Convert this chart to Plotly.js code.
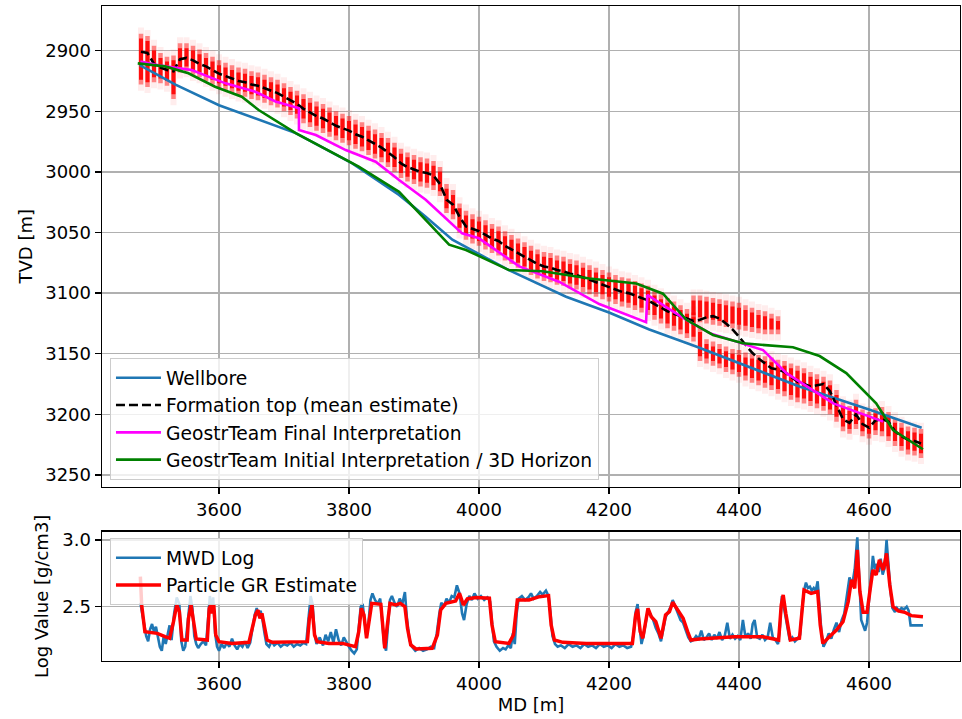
<!DOCTYPE html>
<html>
<head>
<meta charset="utf-8">
<script src="https://cdn.plot.ly/plotly-3.0.1.min.js"></script>
<style>
  html, body { margin: 0; padding: 0; background: #ffffff; }
  #chart { width: 962px; height: 719px; }
</style>
</head>
<body>
<div id="chart"></div>
<script>
// ---- Upper panel: trajectory and formation-top interpretations (MD vs TVD) ----
const wellMd  = [3478, 3533, 3600, 3656, 3718, 3805, 3877, 3918, 3959, 4046, 4134, 4200, 4262, 4334, 4401, 4493, 4600, 4681];
const wellTvd = [2912, 2928, 2945, 2956, 2968, 2993, 3019, 3037, 3056, 3081, 3103, 3116, 3130, 3144, 3158, 3177, 3196, 3211];

const finalMd  = [3479, 3507, 3558, 3610, 3656, 3687, 3723, 3723, 3749, 3795, 3841, 3877, 3918, 3974, 4000, 4062, 4123, 4185, 4257, 4259, 4288, 4319, 4355, 4406, 4437, 4473, 4545, 4622];
const finalTvd = [2909, 2912, 2916, 2927, 2934, 2942, 2947.6, 2965.5, 2969.6, 2982, 2991.6, 3006.7, 3023, 3050.7, 3054.8, 3078, 3090.6, 3109, 3124, 3101.5, 3111.5, 3122, 3133, 3141.4, 3147, 3166, 3191, 3206];

const initMd  = [3475, 3517, 3553, 3594, 3635, 3661, 3718, 3815, 3877, 3954, 3980, 4046, 4098, 4170, 4242, 4283, 4319, 4360, 4406, 4483, 4524, 4565, 4611, 4637, 4683];
const initTvd = [2910.5, 2913, 2918.7, 2929.8, 2938, 2949, 2968, 2995.7, 3016.5, 3060, 3064.4, 3081, 3082, 3088, 3092, 3100.5, 3122, 3134.5, 3141.4, 3144.7, 3151.9, 3166, 3190.9, 3212.9, 3228.8];

// Particle filter: station depths, mean formation top and particle spread (low / high TVD)
const pMd = [3480, 3490, 3500, 3510, 3520, 3530, 3540, 3550, 3560, 3570, 3580, 3590, 3600, 3610, 3620, 3630, 3640, 3650, 3660, 3670,
             3680, 3690, 3700, 3710, 3720, 3730, 3740, 3750, 3760, 3770, 3780, 3790, 3800, 3810, 3820, 3830, 3840, 3850, 3860, 3870,
             3880, 3890, 3900, 3910, 3920, 3930, 3940, 3950, 3960, 3970, 3980, 3990, 4000, 4010, 4020, 4030, 4040, 4050, 4060, 4070,
             4080, 4090, 4100, 4110, 4120, 4130, 4140, 4150, 4160, 4170, 4180, 4190, 4200, 4210, 4220, 4230, 4240, 4250, 4260, 4270,
             4280, 4290, 4300, 4310, 4320, 4330, 4340, 4350, 4360, 4370, 4380, 4390, 4400, 4410, 4420, 4430, 4440, 4450, 4460, 4470,
             4480, 4490, 4500, 4510, 4520, 4530, 4540, 4550, 4560, 4570, 4580, 4590, 4600, 4610, 4620, 4630, 4640, 4650, 4660, 4670, 4680];
const pMean = [2901, 2902, 2911, 2914, 2916, 2917, 2907, 2906, 2908, 2911, 2913, 2916, 2919, 2921, 2923, 2925, 2926, 2928, 2929, 2931,
               2933, 2935, 2938, 2941, 2944, 2948, 2951, 2954, 2956, 2959, 2962, 2964, 2966, 2969, 2971, 2974, 2977, 2980, 2984, 2988,
               2993, 2996, 2998, 3000, 3001, 3003, 3010, 3023, 3027, 3037, 3045, 3047, 3049, 3052, 3055, 3057, 3061, 3064, 3067, 3070,
               3073, 3076, 3078, 3079, 3081, 3082, 3084, 3085, 3087, 3089, 3091, 3093, 3095, 3097, 3099, 3100, 3102, 3104, 3106, 3109,
               3112, 3115, 3117, 3119, 3121, 3123, 3122, 3120, 3119, 3121, 3125, 3130, 3136, 3143, 3149, 3154, 3158, 3162, 3163, 3165,
               3169, 3173, 3175, 3177, 3176, 3175, 3181, 3192, 3204, 3207, 3200, 3208, 3211, 3205, 3204, 3206, 3214, 3218, 3221, 3222, 3224];
const pLo = [2886, 2888, 2896, 2902, 2905, 2904, 2894, 2894, 2896, 2899, 2902, 2905, 2908, 2910, 2912, 2914, 2915, 2917, 2918, 2920,
             2922, 2924, 2927, 2930, 2933, 2936, 2939, 2942, 2944, 2947, 2950, 2952, 2954, 2957, 2959, 2962, 2965, 2968, 2972, 2976,
             2981, 2984, 2986, 2988, 2989, 2991, 2996, 3010, 3015, 3026, 3032, 3035, 3037, 3040, 3043, 3045, 3049, 3052, 3055, 3058,
             3061, 3064, 3066, 3067, 3069, 3070, 3072, 3073, 3075, 3077, 3079, 3081, 3083, 3085, 3087, 3088, 3090, 3092, 3094, 3098,
             3101, 3104, 3107, 3110, 3113, 3116, 3128, 3138, 3140, 3142, 3144, 3146, 3147, 3149, 3150, 3151, 3152, 3153, 3155, 3156,
             3158, 3160, 3162, 3165, 3167, 3169, 3172, 3180, 3190, 3193, 3188, 3196, 3198, 3195, 3194, 3198, 3203, 3207, 3210, 3211, 3212];
const pHi = [2928, 2930, 2926, 2927, 2929, 2940, 2918, 2917, 2920, 2922, 2925, 2928, 2931, 2933, 2935, 2937, 2938, 2940, 2941, 2943,
             2945, 2947, 2950, 2953, 2956, 2960, 2963, 2966, 2968, 2971, 2974, 2976, 2978, 2981, 2983, 2986, 2989, 2992, 2996, 3000,
             3005, 3008, 3010, 3012, 3013, 3015, 3020, 3034, 3039, 3050, 3056, 3059, 3061, 3064, 3067, 3069, 3073, 3076, 3079, 3082,
             3085, 3088, 3090, 3091, 3093, 3094, 3096, 3097, 3099, 3101, 3103, 3105, 3107, 3109, 3111, 3112, 3114, 3116, 3118, 3122,
             3125, 3129, 3131, 3134, 3137, 3140, 3156, 3158, 3160, 3162, 3165, 3167, 3169, 3172, 3174, 3176, 3178, 3180, 3183, 3185,
             3188, 3190, 3191, 3193, 3195, 3197, 3200, 3206, 3214, 3216, 3212, 3218, 3220, 3217, 3218, 3222, 3226, 3230, 3233, 3234, 3236];
// Second (shallower) particle mode between 4330 and 4460 m MD
const p2Md = [4330, 4340, 4350, 4360, 4370, 4380, 4390, 4400, 4410, 4420, 4430, 4440, 4450, 4460];
const p2Lo = [3102, 3102, 3103, 3104, 3105, 3106, 3107, 3108, 3110, 3112, 3114, 3115, 3117, 3119];
const p2Hi = [3122, 3124, 3125, 3126, 3127, 3128, 3129, 3130, 3131, 3132, 3133, 3134, 3134, 3134];

// ---- Lower panel: MWD log and particle estimate ----
const mwdMd = [3479, 3482, 3485, 3488, 3491, 3494, 3497, 3500, 3503, 3506, 3509, 3512, 3515, 3518, 3521, 3524, 3527, 3531, 3535, 3539,
               3542, 3545, 3548, 3552, 3556, 3559, 3562, 3565, 3568, 3572, 3576, 3580, 3583, 3586, 3589, 3591, 3594, 3597, 3600, 3604,
               3608, 3612, 3616, 3620, 3624, 3628, 3632, 3636, 3640, 3644, 3648, 3651, 3655, 3658, 3661, 3664, 3667, 3670, 3673, 3677,
               3681, 3685, 3690, 3695, 3700, 3705, 3710, 3715, 3720, 3725, 3730, 3734, 3738, 3741, 3744, 3747, 3750, 3755, 3760, 3764,
               3768, 3772, 3776, 3780, 3784, 3788, 3792, 3796, 3800, 3804, 3808, 3812, 3815, 3818, 3821, 3824, 3827, 3830, 3833, 3836,
               3840, 3844, 3848, 3851, 3854, 3857, 3860, 3863, 3866, 3870, 3874, 3878, 3882, 3886, 3889, 3893, 3897, 3902, 3908, 3914,
               3920, 3926, 3931, 3935, 3939, 3942, 3946, 3950, 3954, 3958, 3962, 3966, 3970, 3974, 3977, 3981, 3985, 3989, 3993, 3998,
               4003, 4008, 4013, 4017, 4020, 4023, 4027, 4032, 4037, 4041, 4045, 4049, 4052, 4055, 4058, 4061, 4066, 4071, 4076, 4080,
               4084, 4089, 4094, 4098, 4103, 4107, 4110, 4113, 4117, 4121, 4126, 4132, 4138, 4144, 4150, 4156, 4162, 4168, 4174, 4180,
               4186, 4192, 4198, 4204, 4210, 4216, 4222, 4228, 4234, 4238, 4241, 4244, 4247, 4250, 4253, 4257, 4260, 4264, 4268, 4272,
               4276, 4280, 4283, 4287, 4291, 4295, 4298, 4302, 4306, 4310, 4314, 4318, 4322, 4326, 4330, 4334, 4338, 4342, 4346, 4350,
               4354, 4358, 4362, 4366, 4370, 4374, 4378, 4382, 4386, 4390, 4394, 4398, 4402, 4406, 4410, 4414, 4418, 4421, 4424, 4428,
               4432, 4436, 4440, 4444, 4448, 4452, 4456, 4460, 4463, 4466, 4469, 4472, 4475, 4478, 4482, 4486, 4490, 4494, 4497, 4500,
               4503, 4506, 4509, 4512, 4515, 4518, 4521, 4524, 4527, 4530, 4534, 4538, 4542, 4546, 4550, 4554, 4558, 4562, 4566, 4570,
               4574, 4578, 4582, 4585, 4588, 4591, 4594, 4597, 4600, 4603, 4606, 4609, 4612, 4615, 4618, 4621, 4624, 4627, 4630, 4633,
               4636, 4640, 4643, 4646, 4650, 4654, 4658, 4661, 4664, 4670, 4676, 4683];
const mwdVal = [2.53, 2.45, 2.36, 2.28, 2.24, 2.33, 2.37, 2.31, 2.35, 2.26, 2.20, 2.17, 2.28, 2.22, 2.30, 2.36, 2.25, 2.45, 2.57, 2.52,
                2.24, 2.17, 2.20, 2.40, 2.58, 2.49, 2.28, 2.22, 2.19, 2.22, 2.24, 2.21, 2.38, 2.58, 2.46, 2.57, 2.30, 2.20, 2.17, 2.22,
                2.19, 2.23, 2.20, 2.26, 2.21, 2.18, 2.22, 2.20, 2.24, 2.19, 2.23, 2.33, 2.44, 2.49, 2.43, 2.47, 2.40, 2.30, 2.22, 2.20,
                2.24, 2.21, 2.23, 2.20, 2.22, 2.21, 2.23, 2.20, 2.22, 2.21, 2.23, 2.22, 2.40, 2.58, 2.52, 2.30, 2.22, 2.27, 2.21, 2.29,
                2.24, 2.31, 2.23, 2.33, 2.25, 2.21, 2.27, 2.23, 2.20, 2.17, 2.15, 2.18, 2.34, 2.50, 2.52, 2.40, 2.27, 2.38, 2.55, 2.60,
                2.55, 2.52, 2.56, 2.40, 2.22, 2.17, 2.33, 2.55, 2.58, 2.53, 2.50, 2.56, 2.52, 2.61, 2.42, 2.25, 2.20, 2.17, 2.19, 2.17,
                2.18, 2.20, 2.19, 2.30, 2.45, 2.53, 2.50, 2.56, 2.53, 2.58, 2.57, 2.66, 2.60, 2.45, 2.40, 2.52, 2.58, 2.55, 2.60, 2.56,
                2.58, 2.55, 2.57, 2.54, 2.38, 2.24, 2.20, 2.17, 2.19, 2.18, 2.21, 2.19, 2.30, 2.22, 2.45, 2.56, 2.58, 2.55, 2.57, 2.60,
                2.56, 2.58, 2.61, 2.59, 2.62, 2.58, 2.45, 2.28, 2.22, 2.20, 2.21, 2.19, 2.22, 2.20, 2.21, 2.19, 2.22, 2.20, 2.21, 2.19,
                2.22, 2.20, 2.21, 2.19, 2.22, 2.20, 2.21, 2.19, 2.20, 2.30, 2.46, 2.52, 2.35, 2.22, 2.28, 2.40, 2.48, 2.44, 2.40, 2.34,
                2.30, 2.24, 2.32, 2.42, 2.46, 2.50, 2.55, 2.50, 2.46, 2.40, 2.38, 2.32, 2.27, 2.24, 2.25, 2.28, 2.26, 2.32, 2.25, 2.27,
                2.30, 2.25, 2.29, 2.26, 2.31, 2.25, 2.28, 2.38, 2.26, 2.29, 2.26, 2.28, 2.25, 2.40, 2.27, 2.30, 2.26, 2.37, 2.40, 2.27,
                2.26, 2.29, 2.25, 2.27, 2.38, 2.27, 2.25, 2.22, 2.35, 2.58, 2.50, 2.40, 2.33, 2.25, 2.27, 2.24, 2.26, 2.29, 2.48, 2.62,
                2.68, 2.64, 2.65, 2.62, 2.64, 2.62, 2.69, 2.52, 2.30, 2.20, 2.24, 2.30, 2.26, 2.33, 2.38, 2.31, 2.40, 2.45, 2.60, 2.72,
                2.66, 2.78, 3.02, 2.70, 2.40, 2.36, 2.32, 2.38, 2.55, 2.73, 2.88, 2.78, 2.82, 2.76, 2.86, 2.74, 2.79, 3.00, 2.78, 2.62,
                2.49, 2.46, 2.49, 2.47, 2.49, 2.48, 2.50, 2.47, 2.36, 2.36, 2.36, 2.36];

const estMd = [3479, 3481, 3486, 3492, 3505, 3517, 3524, 3530, 3535, 3539, 3543, 3551, 3553, 3557, 3561, 3565, 3582, 3585, 3588, 3590,
               3592, 3595, 3600, 3620, 3646, 3652, 3656, 3660, 3663, 3666, 3670, 3674, 3682, 3723, 3736, 3739, 3743, 3747, 3751, 3769,
               3790, 3810, 3815, 3819, 3823, 3827, 3831, 3835, 3849, 3852, 3855, 3859, 3863, 3872, 3879, 3886, 3890, 3895, 3903, 3928,
               3936, 3941, 3949, 3964, 3970, 3976, 3982, 3995, 4016, 4020, 4025, 4046, 4053, 4059, 4062, 4077, 4093, 4107, 4111, 4116,
               4129, 4165, 4216, 4236, 4241, 4244, 4248, 4252, 4260, 4265, 4272, 4280, 4287, 4293, 4298, 4306, 4314, 4321, 4326, 4339,
               4370, 4393, 4437, 4461, 4465, 4468, 4472, 4475, 4479, 4493, 4497, 4500, 4511, 4521, 4525, 4529, 4539, 4550, 4560, 4568,
               4573, 4578, 4582, 4586, 4591, 4597, 4602, 4606, 4611, 4616, 4622, 4627, 4632, 4637, 4645, 4655, 4665, 4683];
const estVal = [2.725, 2.513, 2.313, 2.308, 2.30, 2.275, 2.263, 2.388, 2.513, 2.463, 2.25, 2.25, 2.41, 2.513, 2.363, 2.258, 2.25, 2.488, 2.513, 2.45,
                2.513, 2.288, 2.238, 2.225, 2.233, 2.363, 2.438, 2.475, 2.413, 2.45, 2.338, 2.25, 2.233, 2.233, 2.238, 2.41, 2.513, 2.288, 2.238, 2.225,
                2.225, 2.20, 2.313, 2.488, 2.438, 2.263, 2.41, 2.525, 2.518, 2.313, 2.188, 2.363, 2.525, 2.513, 2.525, 2.50, 2.338, 2.213, 2.183, 2.188,
                2.288, 2.475, 2.525, 2.543, 2.60, 2.513, 2.558, 2.568, 2.563, 2.363, 2.238, 2.225, 2.288, 2.55, 2.55, 2.55, 2.575, 2.583, 2.363, 2.25,
                2.233, 2.225, 2.225, 2.225, 2.438, 2.483, 2.313, 2.263, 2.488, 2.425, 2.388, 2.263, 2.438, 2.463, 2.533, 2.475, 2.413, 2.313, 2.25, 2.258,
                2.268, 2.275, 2.275, 2.25, 2.513, 2.588, 2.45, 2.363, 2.25, 2.263, 2.463, 2.625, 2.60, 2.613, 2.363, 2.225, 2.275, 2.325, 2.388, 2.538,
                2.70, 2.638, 2.925, 2.613, 2.458, 2.458, 2.638, 2.775, 2.738, 2.85, 2.775, 2.90, 2.663, 2.50, 2.468, 2.458, 2.433, 2.425];

// Build vertical particle streaks as null-separated segments; pad widens (+) or trims (-) each streak
function streaks(md, lo, hi, pad) {
  const x = [], y = [];
  for (let i = 0; i < md.length; i++) {
    x.push(md[i], md[i], null);
    y.push(lo[i] - pad, hi[i] + pad, null);
  }
  return { x, y };
}

const FONT = 'DejaVu Sans, Verdana, sans-serif';
const FS = 18;
const LEG_FS = 18.7;
const tab = { blue: '#1f77b4' };

// Three layers per streak: faint halo, translucent body, dense core
const streakLayers = [
  { pad: 5,  color: 'rgba(255,0,0,0.07)', width: 6 },
  { pad: 0,  color: 'rgba(255,0,0,0.45)', width: 4.5 },
  { pad: -4, color: 'rgba(255,0,0,0.9)',  width: 4 }
];
const traces = [];
streakLayers.forEach(function (s) {
  [[pMd, pLo, pHi], [p2Md, p2Lo, p2Hi]].forEach(function (set) {
    const seg = streaks(set[0], set[1], set[2], s.pad);
    traces.push({ x: seg.x, y: seg.y, xaxis: 'x2', yaxis: 'y2', mode: 'lines',
                  line: { color: s.color, width: s.width }, showlegend: false, hoverinfo: 'skip' });
  });
});

traces.push(
  { x: wellMd, y: wellTvd, xaxis: 'x2', yaxis: 'y2', mode: 'lines', name: 'Wellbore', line: { color: tab.blue, width: 2.6 }, legend: 'legend' },
  { x: pMd, y: pMean, xaxis: 'x2', yaxis: 'y2', mode: 'lines', name: 'Formation top (mean estimate)', line: { color: '#000000', width: 2.6, dash: '9px,4px' }, legend: 'legend' },
  { x: finalMd, y: finalTvd, xaxis: 'x2', yaxis: 'y2', mode: 'lines', name: 'GeostrTeam Final Interpretation', line: { color: '#ff00ff', width: 2.6 }, legend: 'legend' },
  { x: initMd, y: initTvd, xaxis: 'x2', yaxis: 'y2', mode: 'lines', name: 'GeostrTeam Initial Interpretation / 3D Horizon', line: { color: '#008000', width: 2.6 }, legend: 'legend' },
  { x: mwdMd, y: mwdVal, xaxis: 'x', yaxis: 'y', mode: 'lines', name: 'MWD Log', line: { color: tab.blue, width: 2.6 }, legend: 'legend2' },
  { x: estMd, y: estVal, xaxis: 'x', yaxis: 'y', mode: 'lines', name: 'Particle GR Estimate', line: { color: '#ff0000', width: 3.5 }, legend: 'legend2' }
);

const axisStyle = {
  showgrid: true, gridcolor: '#b0b0b0', gridwidth: 1.4,
  showline: true, mirror: true, linecolor: '#000000', linewidth: 1.4,
  ticks: 'outside', ticklen: 6, tickwidth: 1.4, tickcolor: '#000000',
  tickfont: { family: FONT, size: FS, color: '#000000' },
  zeroline: false
};

const legendStyle = {
  xanchor: 'left', yanchor: 'top', itemwidth: 45,
  bgcolor: 'rgba(255,255,255,0.8)', bordercolor: '#cccccc', borderwidth: 1,
  font: { family: FONT, size: LEG_FS, color: '#000000' }
};

const layout = {
  width: 962, height: 719,
  margin: { l: 102, r: 2, t: 6, b: 58 },
  paper_bgcolor: '#ffffff', plot_bgcolor: '#ffffff',
  font: { family: FONT, size: FS, color: '#000000' },
  hovermode: false,
  xaxis: Object.assign({}, axisStyle, {
    domain: [0, 1], anchor: 'y', range: [3420, 4740], dtick: 200, tick0: 3600,
    title: { text: 'MD [m]', font: { family: FONT, size: FS }, standoff: 4 }
  }),
  xaxis2: Object.assign({}, axisStyle, {
    domain: [0, 1], anchor: 'y2', matches: 'x', range: [3420, 4740], dtick: 200, tick0: 3600
  }),
  yaxis: Object.assign({}, axisStyle, {
    domain: [0, 0.1974], anchor: 'x', range: [2.093, 3.062], dtick: 0.5, tick0: 2.5, tickformat: '.1f',
    title: { text: 'Log Value [g/cm3]', font: { family: FONT, size: FS }, standoff: 9 }
  }),
  yaxis2: Object.assign({}, axisStyle, {
    domain: [0.2664, 1], anchor: 'x2', range: [3259.5, 2863.2], dtick: 50, tick0: 2900,
    title: { text: 'TVD [m]', font: { family: FONT, size: FS }, standoff: 8 }
  }),
  legend: Object.assign({}, legendStyle, { x: 0.0093, y: 0.4625 }),
  legend2: Object.assign({}, legendStyle, { x: 0.0093, y: 0.1876 })
};

Plotly.newPlot('chart', traces, layout, { displayModeBar: false, staticPlot: true });
</script>
</body>
</html>
